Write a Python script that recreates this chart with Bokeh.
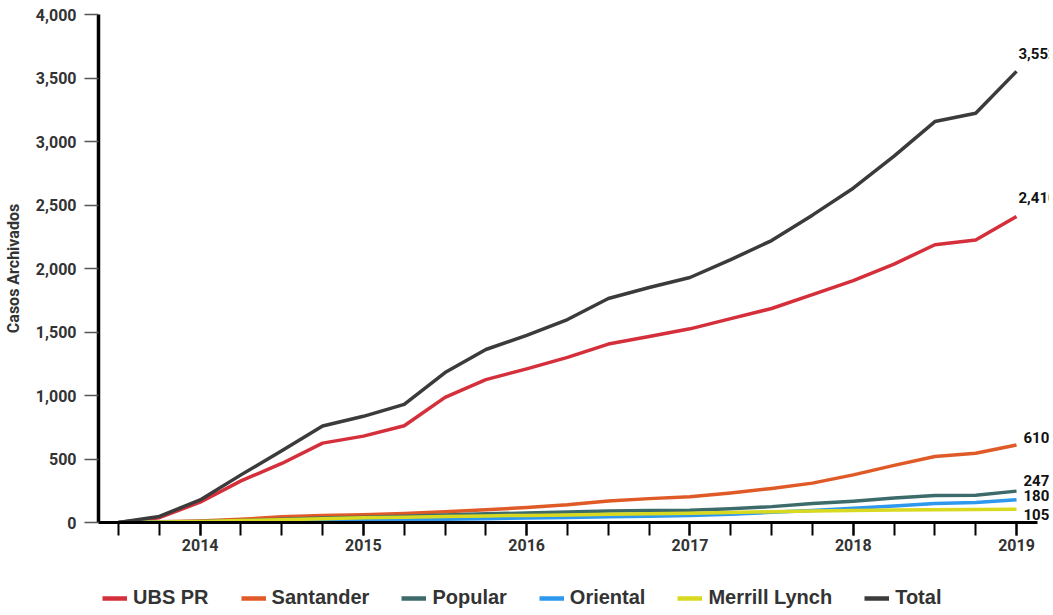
from bokeh.plotting import figure
from bokeh.layouts import column
from bokeh.models import (Range1d, FixedTicker, NumeralTickFormatter, Legend,
                          LegendItem, ColumnDataSource)
from bokeh.core.properties import value
from bokeh.embed import file_html
from bokeh.resources import INLINE

# ---- data -------------------------------------------------------------
quarters = [2013.5, 2013.75, 2014.0, 2014.25, 2014.5, 2014.75, 2015.0, 2015.25,
            2015.5, 2015.75, 2016.0, 2016.25, 2016.5, 2016.75, 2017.0, 2017.25,
            2017.5, 2017.75, 2018.0, 2018.25, 2018.5, 2018.75, 2019.0]
ubs_pr = [0, 38, 160, 328, 465, 625, 680, 762, 985, 1125, 1210, 1300, 1405,
          1465, 1525, 1605, 1685, 1795, 1905, 2035, 2187, 2225, 2410]
santander = [0, 5, 12, 25, 45, 55, 62, 70, 85, 100, 118, 140, 170, 188, 203,
             233, 268, 310, 375, 450, 520, 545, 610]
popular = [0, 3, 8, 15, 25, 35, 42, 50, 60, 68, 75, 82, 90, 95, 97, 108, 125,
           150, 168, 192, 213, 215, 247]
oriental = [0, 2, 5, 8, 12, 15, 18, 20, 25, 30, 35, 40, 45, 50, 55, 65, 80, 95,
            112, 130, 150, 158, 180]
merrill = [0, 3, 8, 15, 22, 30, 38, 42, 48, 52, 56, 60, 64, 68, 72, 78, 85, 90,
           95, 98, 100, 102, 105]
total = [0, 48, 178, 375, 565, 760, 836, 930, 1181, 1362, 1473, 1598, 1764,
         1850, 1929, 2070, 2220, 2420, 2632, 2885, 3157, 3222, 3552]
series_names = ["UBS PR", "Santander", "Popular", "Oriental", "Merrill Lynch", "Total"]
year_ticks = [2014, 2015, 2016, 2017, 2018, 2019]
year_labels = ["2014", "2015", "2016", "2017", "2018", "2019"]
y_ticks = [0, 500, 1000, 1500, 2000, 2500, 3000, 3500, 4000]

# ---- styles -----------------------------------------------------------
colors = ["#d42f3a", "#e05a28", "#3d6b6c", "#2e98ee", "#d9d91f", "#3b3b3b"]
lab_dx = [2, 7, 7, 7, 7, 2]
lab_dy = [-19, -8, -11, -4, 5, -18]

p = figure(frame_width=951, frame_height=508, output_backend="svg",
           toolbar_location=None,
           x_range=Range1d(2013.3775, 2019.202), y_range=Range1d(0, 4000),
           min_border_left=94, min_border_right=0, min_border_top=14,
           min_border_bottom=40)
p.outline_line_color = None
p.xgrid.visible = False
p.ygrid.visible = False
p.background_fill_color = "white"
p.border_fill_color = "white"

all_series = [ubs_pr, santander, popular, oriental, merrill, total]
for ys, c, dx, dy in zip(all_series, colors, lab_dx, lab_dy):
    p.line(quarters, ys, line_color=c, line_width=3.5, line_join="round")
    src = ColumnDataSource(dict(x=[quarters[-1]], y=[ys[-1]], t=["{:,}".format(ys[-1])]))
    p.text(x="x", y="y", text="t", source=src, x_offset=dx, y_offset=dy,
           text_font=value("Roboto"), text_font_style="bold",
           text_font_size="15px", text_color="#111111", text_baseline="middle",
           text_align="left")

# axes
xa = p.xaxis[0]
xa.ticker = FixedTicker(ticks=year_ticks, minor_ticks=quarters)
xa.major_label_overrides = {t: l for t, l in zip(year_ticks, year_labels)}
xa.bounds = (2013.3775, 2019.13)
xa.axis_line_color = "black"
xa.axis_line_width = 3
xa.major_tick_line_color = "black"
xa.major_tick_line_width = 2
xa.minor_tick_line_color = "black"
xa.minor_tick_line_width = 2
xa.major_tick_in = 0
xa.major_tick_out = 13
xa.minor_tick_in = 0
xa.minor_tick_out = 13
xa.major_label_text_font = "Roboto"
xa.major_label_text_font_style = "bold"
xa.major_label_text_font_size = "16px"
xa.major_label_text_color = "#333333"
xa.major_label_standoff = 3

ya = p.yaxis[0]
ya.ticker = FixedTicker(ticks=y_ticks)
ya.formatter = NumeralTickFormatter(format="0,0")
ya.axis_line_color = "black"
ya.axis_line_width = 3.5
ya.major_tick_line_color = "#555555"
ya.major_tick_line_width = 1.5
ya.major_tick_in = 0
ya.major_tick_out = 14
ya.minor_tick_line_color = None
ya.major_label_text_font = "Roboto"
ya.major_label_text_font_style = "bold"
ya.major_label_text_font_size = "16px"
ya.major_label_text_color = "#333333"
ya.major_label_standoff = 8
ya.axis_label = "Casos Archivados"
ya.axis_label_text_font = "Roboto"
ya.axis_label_text_font_style = "bold"
ya.axis_label_text_font_size = "16px"
ya.axis_label_text_color = "#333333"
ya.axis_label_standoff = 10

# legend strip below the chart (series drawn out of view; only the legend shows)
p2 = figure(width=1045, height=53, output_backend="svg", toolbar_location=None,
            x_range=Range1d(0, 1), y_range=Range1d(0, 1), min_border=0)
p2.axis.visible = False
p2.grid.visible = False
p2.outline_line_color = None
items = []
for name, ys, c in zip(series_names, all_series, colors):
    r = p2.line(quarters, ys, line_color=c, line_width=4.5)
    items.append(LegendItem(label=name, renderers=[r]))
legend = Legend(items=items, orientation="horizontal", location=(4, 6),
                glyph_width=25, glyph_height=20, label_standoff=6, spacing=32,
                padding=0, margin=0, border_line_color=None,
                background_fill_alpha=0,
                label_text_font="Liberation Sans", label_text_font_style="bold",
                label_text_font_size="20px", label_text_color="#333333")
p2.add_layout(legend, "center")

layout = column(p, p2, spacing=0)
open("out.html", "w").write(file_html(layout, INLINE))
